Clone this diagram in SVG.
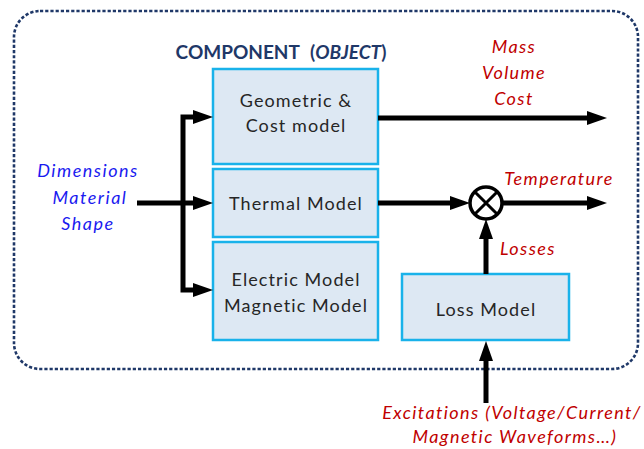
<svg xmlns="http://www.w3.org/2000/svg" width="644" height="449" viewBox="0 0 644 449">
<style>
.box{fill:#dde8f3;stroke:#19b2ea;stroke-width:2.5}
.bt{font-family:"Lato","Open Sans",sans-serif;font-size:18px;letter-spacing:1.1px;fill:#262626;text-anchor:middle}
.red{font-family:"Lato","Open Sans",sans-serif;font-size:18px;letter-spacing:1.4px;font-style:italic;fill:#c00000;text-anchor:middle}
.blue{font-family:"Lato","Open Sans",sans-serif;font-size:18px;letter-spacing:1.5px;font-style:italic;fill:#1a1af0;text-anchor:middle}
.wire{fill:none;stroke:#000;stroke-width:5;stroke-linejoin:miter}
</style>
<defs>
<marker id="ah" markerUnits="userSpaceOnUse" markerWidth="22" markerHeight="16" refX="2" refY="7" orient="auto-start-reverse">
<path d="M0,0 L20,7 L0,14 z" fill="#000"/>
</marker>
</defs>
<rect x="14" y="11" width="624" height="358" rx="26" ry="26" fill="none" stroke="#1f3868" stroke-width="2.6" stroke-dasharray="3.2 2"/>
<text x="281" y="59" font-family="Lato,'Open Sans',sans-serif" font-size="19" font-weight="bold" fill="#1f3868" text-anchor="middle">COMPONENT <tspan dx="6">(</tspan><tspan font-style="italic">OBJECT</tspan>)</text>
<g id="geometric">
<rect class="box" x="213" y="69" width="165" height="95"/>
<text class="bt" x="296" y="107">Geometric &amp;</text>
<text class="bt" x="296" y="132">Cost model</text>
</g>
<g id="thermal">
<rect class="box" x="213" y="169" width="165" height="68"/>
<text class="bt" x="296" y="210">Thermal Model</text>
</g>
<g id="electric">
<rect class="box" x="213" y="242" width="165" height="98"/>
<text class="bt" x="296" y="286">Electric Model</text>
<text class="bt" x="296" y="312">Magnetic Model</text>
</g>
<g id="loss">
<rect class="box" x="402" y="274" width="167" height="66"/>
<text class="bt" x="486" y="316">Loss Model</text>
</g>
<g id="multiplier">
<circle cx="486" cy="203" r="16" fill="#fff" stroke="#000" stroke-width="3.5"/>
<path d="M474.7,191.7 L497.3,214.3 M497.3,191.7 L474.7,214.3" stroke="#000" stroke-width="3"/>
</g>
<g id="connectors">
<path class="wire" d="M195,117 H183 V290 H195" marker-start="url(#ah)" marker-end="url(#ah)"/>
<path class="wire" d="M137,203 H195" marker-end="url(#ah)"/>
<path class="wire" d="M378,118 H589" marker-end="url(#ah)"/>
<path class="wire" d="M378,203 H452" marker-end="url(#ah)"/>
<path class="wire" d="M502,203 H589" marker-end="url(#ah)"/>
<path class="wire" d="M486,274 V237" marker-end="url(#ah)"/>
<path class="wire" d="M486,403 V359" marker-end="url(#ah)"/>
</g>
<g id="labels">
<text class="blue" x="88" y="177">Dimensions</text>
<text class="blue" x="90" y="204">Material</text>
<text class="blue" x="88" y="230">Shape</text>
<text class="red" x="514" y="53">Mass</text>
<text class="red" x="514" y="79">Volume</text>
<text class="red" x="514" y="105">Cost</text>
<text class="red" x="559" y="185">Temperature</text>
<text class="red" x="528" y="255">Losses</text>
<text class="red" x="512" y="419">Excitations (Voltage/Current/</text>
<text class="red" x="515" y="443">Magnetic Waveforms…)</text>
</g>
</svg>
